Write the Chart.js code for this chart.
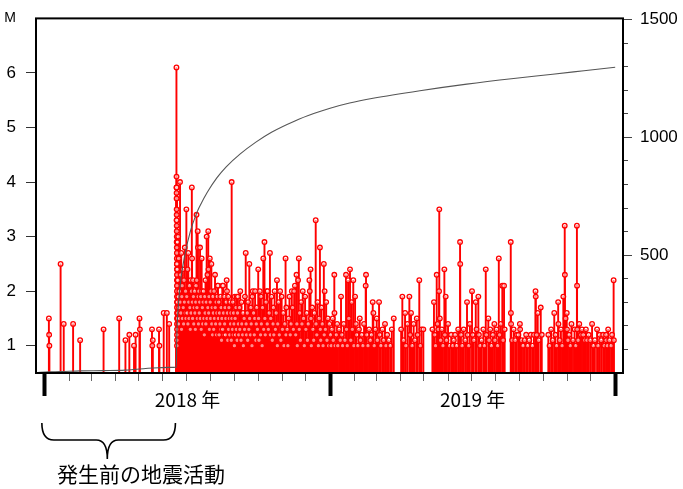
<!DOCTYPE html>
<html>
<head>
<meta charset="utf-8">
<script src="https://cdn.jsdelivr.net/npm/chart.js@4.4.0/dist/chart.umd.min.js"></script>
<style>
  html, body { margin: 0; padding: 0; background: #fff; }
</style>
</head>
<body>
<canvas id="mtChart" width="683" height="489"></canvas>
<script>
// Eje X: días contados desde el 1 de enero de 2018
const xMin = -11.5, xMax = 740;
const monthStartDays = [0, 31, 59, 90, 120, 151, 181, 212, 243, 273, 304, 334, 365, 396, 424, 455, 485, 516, 546, 577, 608, 638, 669, 699, 730];
const yearStartDays = [0, 365, 730];
const yearLabelDays = [182.5, 547.5];
const yearLabels = ['2018 年', '2019 年'];

// Eje izquierdo (magnitud) y derecho (número acumulado)
const magMin = 0.5, magMax = 7;
const magTicks = [1, 2, 3, 4, 5, 6, 7];
const countMax = 1505;
const countTicks = [100, 200, 300, 400, 500, 600, 700, 800, 900, 1000, 1100, 1200, 1300, 1400, 1500];
const countLabels = [500, 1000, 1500];

// Nota bajo el eje
const noteText = '発生前の地震活動';
const noteFromDay = -4, noteToDay = 167;

// Sismos: [día, M]
const preEvents = [[5,1.5],[5.3,1.2],[5.6,1.0],[20,2.5],[24,1.4],[36,1.4],[45,1.1],[75,1.3],[95,1.5],[103,1.1],[108,1.2],[114,1.0],[116,1.2],[121,1.5],[121.5,1.3],[137,1.3],[137.4,1.0],[138,1.1],[146,1.3],[146.5,1.0],[152,1.6],[156,1.6],[159,1.4]];

const mainshockDay = [[168.3,6.1],[168.4,4.1],[168.45,3.9],[168.5,3.9],[168.5,3.8],[168.5,3.7],[168.55,3.5],[168.6,3.4],[168.6,3.3],[168.6,3.3],[168.65,3.2],[168.7,3.1],[168.7,3.0],[168.7,2.9],[168.75,2.9],[168.75,2.8],[168.8,2.7],[168.8,2.6],[168.8,2.5],[168.85,2.5],[168.85,2.4],[168.9,2.3],[168.9,2.2],[168.9,2.1],[168.95,2.0],[168.95,1.9],[169,1.8],[169,1.7],[169,1.6],[169,1.5],[169,1.4],[169,1.3],[169,1.2],[169,1.1],[169,1.0]];

const aftershocks2018 = [[169.2,2.4],[169.4,1.8],[169.6,2.9],[169.8,1.5],[170,2.2],[170.2,1.6],[170.5,3.0],[170.7,1.9],[171,1.4],[171.3,2.6],[171.6,1.7],[172,2.0],[172.3,1.5],[172.9,4.0],[173.2,1.8],[173.6,2.3],[174,1.6],[174.4,2.7],[174.8,1.3],[175.2,1.9],[175.6,2.1],[176,1.5],[176.5,2.4],[177,1.7],[177.5,1.4],[178,2.2],[178.5,1.8],[179,2.8],[179.5,1.6],[180,2.0],[180.5,1.5],[181,3.5],[181.5,1.9],[182,1.6],[182.5,2.4],[183,1.4],[183.5,2.7],[184,1.8],[184.5,1.5],[185,2.1],[185.5,1.7],[186,1.3],[186.5,2.2],[187,1.6],[187.5,2.0],[188,3.9],[188.3,2.6],[188.6,1.8],[189,1.5],[189.5,2.2],[190,1.9],[190.5,1.4],[191,1.7],[191.5,2.0],[192,1.6],[192.5,1.3],[193,1.8],[193.5,2.1],[194,3.4],[194.3,2.2],[194.6,1.7],[195,1.5],[195.5,3.1],[195.8,2.8],[196,1.9],[196.5,1.4],[197,2.0],[197.5,1.6],[198,1.8],[198.5,2.8],[199,1.5],[199.5,1.9],[200,1.3],[200.6,2.6],[201,2.0],[201.5,1.7],[202,1.4],[202.5,1.8],[203,2.0],[203.5,1.5],[204,1.2],[204.5,1.9],[205,1.6],[205.5,2.2],[206,1.4],[206.5,1.8],[207,3.0],[207.5,1.5],[208,2.3],[208.5,1.7],[209,3.1],[209.3,2.4],[209.6,1.6],[210,1.9],[210.5,1.3],[211,2.6],[211.5,1.8],[212,1.5],[212.5,2.0],[213,2.5],[213.5,1.4],[214,1.7],[214.5,1.2],[215,1.9],[215.5,1.6],[216,1.3],[216.5,2.0],[217,1.5],[217.7,2.3],[218,1.7],[218.5,1.4],[219,1.8],[219.5,1.2],[220,1.6],[220.5,1.9],[221,2.1],[221.5,2.1],[222,1.5],[222.5,1.8],[223,1.2],[223.5,1.6],[224,1.4],[224.5,1.9],[225,1.3],[225.5,1.7],[226,1.1],[226.5,1.5],[227,2.1],[227.5,1.3],[228,2.1],[228.5,1.6],[229,1.2],[229.5,1.9],[230,1.4],[230.5,1.7],[231,1.2],[231.5,1.5],[232,1.8],[232.6,2.2],[233,2.0],[233.5,1.6],[234,1.1],[234.5,1.9],[235,1.3],[235.5,1.7],[236,1.5],[236.5,1.2],[237,1.8],[237.5,1.4],[238,1.6],[238.5,1.1],[239,4.0],[239.5,1.5],[240,1.3],[240.5,1.8],[241,1.2],[241.5,1.6],[242,1.4],[242.5,1.0],[243,1.9],[243.5,1.5],[244,1.2],[244.5,1.7],[245,1.3],[245.5,1.9],[246,1.1],[246.5,1.6],[247,1.9],[247.5,1.4],[248,1.2],[249,1.7],[249.5,1.3],[250,2.0],[251,1.1],[251.5,1.8],[252,1.4],[253,1.2],[253.5,1.6],[254,1.0],[255,1.5],[255.5,1.3],[256,1.9],[257,2.7],[257.5,1.4],[258,1.2],[259,1.6],[259.5,1.1],[260,1.8],[261,1.3],[261.6,2.5],[262,1.5],[263,1.2],[263.5,1.7],[264,1.4],[265,1.0],[265.5,1.9],[266,2.0],[267,1.6],[268,1.2],[268.5,1.5],[269,2.0],[270,1.1],[270.5,1.4],[271,1.7],[272,1.3],[273,2.4],[273.5,1.5],[274,1.1],[275,2.0],[276,1.2],[276.5,1.9],[277,1.4],[278,1.0],[278.5,1.7],[279.5,2.6],[280,1.3],[281,2.9],[281.5,1.5],[282,1.2],[283,1.8],[284,2.0],[284.5,1.4],[285,2.0],[286,1.3],[287,1.6],[288,2.7],[288.5,1.2],[289,1.5],[290,1.9],[291,1.1],[292,1.4],[292.5,1.7],[293,1.2],[294,2.0],[295,1.3],[296,1.6],[297,2.2],[297.5,1.0],[298,1.4],[299,1.8],[300,1.2],[301,2.0],[302,1.1],[303,1.9],[304,1.3],[305,1.6],[306,1.0],[307,1.4],[308,2.6],[308.5,1.2],[309,1.7],[310,1.3],[311,1.0],[312,1.5],[313,1.9],[314,1.2],[315,1.4],[316,2.0],[317,1.7],[318,1.3],[319,2.0],[320,2.1],[321,1.2],[322,2.3],[322.5,1.4],[323,1.0],[324,2.2],[325,2.6],[325.5,1.3],[326,1.6],[327,1.1],[328,1.8],[329,1.4],[330,2.0],[331,1.5],[332,1.0],[333,1.9],[334,1.3],[335,1.6],[336,1.1],[337,1.4],[338.5,2.2],[339,2.0],[340,2.4],[340.5,1.5],[341,1.0],[342,1.7],[343,1.3],[344,1.1],[345,1.6],[346.6,3.3],[347,1.4],[348,1.2],[349,1.8],[350,1.0],[351,1.5],[352,2.8],[352.5,1.3],[353,1.1],[354,1.7],[355,1.4],[356,1.0],[357,2.5],[357.5,1.2],[358,2.0],[359,1.3],[360,1.8],[361,1.1],[362,1.5],[363,1.0],[364,1.4]];

const events2019 = [[365.5,1.2],[366.5,1.0],[367.5,1.3],[368.4,1.5],[369,1.1],[370.4,2.3],[370.6,1.6],[371.5,1.0],[373,1.2],[374,1.4],[375,1.0],[376.5,1.3],[378,1.1],[379,1.9],[380,1.2],[381,1.0],[382.5,1.4],[384,1.1],[385.4,2.3],[386,1.3],[387,1.0],[388,2.2],[389,1.5],[390.5,2.4],[391.5,1.1],[392.7,1.8],[393.5,1.3],[394.7,2.2],[395.5,1.0],[397,1.9],[398,1.4],[399,1.2],[400.5,1.0],[402,1.3],[403,1.5],[404,1.1],[405.5,1.2],[407,1.0],[408.5,1.4],[410.6,2.1],[411,2.3],[412,1.2],[413.5,1.0],[415,1.3],[416.5,1.1],[418,1.2],[419.6,1.8],[420.4,1.6],[421.5,1.0],[423,1.3],[424.7,1.5],[425.5,1.1],[427.7,1.8],[428.5,1.2],[430,1.0],[432,1.3],[433.5,1.1],[435.3,1.4],[436.5,1.0],[438,1.2],[440,1.1],[442,1.0],[444,1.3],[446.5,1.5],[456,1.3],[457.5,1.9],[459,1.1],[461,1.6],[462,1.0],[464,1.4],[466.5,1.9],[467.5,1.2],[468.6,1.6],[470,1.0],[472,1.4],[473.5,1.1],[476,1.5],[477,1.2],[479.2,2.2],[480.5,1.0],[482,1.3],[484.4,1.3],[496,1.3],[498,1.8],[499,1.2],[500,1.0],[501.5,2.3],[502.5,1.4],[503.5,1.3],[504.5,2.0],[504.8,3.5],[505.5,1.5],[506.5,1.1],[508,1.3],[509.5,1.0],[511.3,2.4],[512,1.2],[513,1.9],[514,1.1],[516,1.4],[518,1.0],[520,1.2],[522,1.0],[523.5,1.1],[525,1.2],[527,1.0],[529,1.3],[531.4,2.9],[531.6,2.5],[532.5,1.2],[534,1.0],[536,1.3],[538,1.1],[540.3,1.8],[541,1.2],[542.5,1.0],[544,1.4],[546.7,2.0],[547.5,1.2],[549,1.1],[551.5,1.8],[552.5,1.3],[554.8,1.9],[555.5,1.2],[557,1.0],[559,1.1],[561.2,1.3],[562.5,1.0],[564.3,2.4],[565,1.2],[567.6,1.5],[568.5,1.1],[570,1.3],[571.5,1.0],[573.5,1.2],[575.3,1.4],[576,1.1],[578,1.3],[579.5,1.0],[581,2.6],[582,1.2],[583.5,1.4],[585.5,2.1],[586.5,1.1],[587.7,2.1],[588.5,1.3],[596.3,2.9],[596.5,1.6],[596.7,1.4],[598,1.1],[600,1.3],[602,1.1],[604,1.2],[606,1.2],[608,1.4],[608.3,1.3],[610,1.1],[612,1.0],[614,1.1],[616,1.2],[618,1.0],[620,1.1],[622,1.2],[624,1.0],[626,1.2],[628,2.0],[628.3,1.9],[629.5,1.2],[630.8,1.6],[632,1.1],[634.7,1.7],[636,1.2],[644.4,1.2],[646,1.0],[648,1.3],[650,1.1],[652,1.6],[653.5,1.2],[655,1.0],[657,1.8],[657.3,1.4],[659,1.1],[660.5,1.3],[662,1.0],[663.6,1.9],[665.4,3.2],[665.6,2.3],[666.5,1.5],[668,1.6],[668.3,1.3],[669.5,1.1],[671,1.2],[672.5,1.0],[674,1.4],[676,1.1],[678,1.3],[679.5,1.0],[681,3.2],[681.2,2.1],[681.4,1.3],[682.5,1.1],[684,1.4],[686,1.2],[687.5,1.3],[689,1.2],[691,1.1],[692.5,1.3],[694,1.1],[696,1.2],[698,1.1],[700.4,1.4],[702,1.0],[704,1.1],[706.8,1.3],[708,1.0],[710,1.2],[712,1.1],[714.5,1.2],[716,1.0],[718.3,1.2],[718.6,1.1],[720,1.0],[721,1.3],[722.5,1.1],[724.7,1.0],[726,1.2],[728,2.2],[728.3,1.1]];

// Número acumulado de sismos (curva gris, eje derecho)
const cumDays = [-11.5, 5, 20, 45, 75, 103, 121, 146, 159, 168.2, 168.6, 169.5, 171, 174, 179, 186, 195, 198.5, 208, 220, 232, 250, 270, 290, 320, 345, 365, 390, 420, 480, 540, 600, 650, 690, 730];
const cumCounts = [2, 5, 6, 9, 10, 12, 17, 22, 24, 25, 130, 220, 300, 400, 500, 600, 685, 710, 768, 828, 875, 930, 980, 1022, 1070, 1102, 1124, 1146, 1166, 1198, 1226, 1250, 1268, 1283, 1298];

const allEvents = [].concat(preEvents, mainshockDay, aftershocks2018, events2019);

const numFont = { family: '"Liberation Sans", Arial, sans-serif', size: 17 };
const jpFont = '"Noto Sans CJK JP", sans-serif';

// Marco del gráfico y la llave con la nota
const frameAndNote = {
    id: 'frameAndNote',
    afterDatasetsDraw(chart) {
        const { ctx, chartArea: a } = chart;
        ctx.save();
        ctx.strokeStyle = '#000';
        ctx.lineWidth = 2;
        ctx.strokeRect(a.left, a.top, a.right - a.left, a.bottom - a.top);
        ctx.restore();
    },
    afterDraw(chart) {
        const { ctx } = chart;
        const xs = chart.scales.x;
        const x0 = xs.getPixelForValue(noteFromDay);
        const x1 = xs.getPixelForValue(noteToDay);
        const tip = x0 + (x1 - x0) * 0.49;
        const top = 423, mid = 440, bot = 459;
        ctx.save();
        ctx.strokeStyle = '#000';
        ctx.lineWidth = 1.6;
        ctx.beginPath();
        ctx.moveTo(x0, top);
        ctx.quadraticCurveTo(x0, mid, x0 + 12, mid);
        ctx.lineTo(tip - 11, mid);
        ctx.quadraticCurveTo(tip, mid, tip, bot);
        ctx.quadraticCurveTo(tip, mid, tip + 11, mid);
        ctx.lineTo(x1 - 12, mid);
        ctx.quadraticCurveTo(x1, mid, x1, top);
        ctx.stroke();
        ctx.fillStyle = '#000';
        ctx.font = '21px ' + jpFont;
        ctx.textAlign = 'left';
        ctx.textBaseline = 'middle';
        ctx.fillText(noteText, 57, 474);
        ctx.restore();
    }
};

new Chart(document.getElementById('mtChart'), {
    type: 'scatter',
    data: {
        datasets: [
            {
                // Curva acumulada
                type: 'line',
                data: cumDays.map((d, i) => ({ x: d, y: cumCounts[i] })),
                yAxisID: 'y2',
                borderColor: '#555555',
                borderWidth: 1.1,
                pointRadius: 0,
                cubicInterpolationMode: 'monotone',
                order: 1
            },
            {
                // Círculos de cada sismo
                type: 'scatter',
                data: allEvents.map(e => ({ x: e[0], y: e[1] })),
                yAxisID: 'y',
                pointRadius: 2.3,
                borderWidth: 1.3,
                borderColor: '#ff0000',
                backgroundColor: 'rgba(255,255,255,0.55)',
                order: 2
            },
            {
                // Barras verticales (tallos) hasta la M de cada sismo
                type: 'bar',
                data: allEvents.map(e => ({ x: e[0], y: [magMin, e[1]] })),
                yAxisID: 'y',
                backgroundColor: '#ff0000',
                borderWidth: 0,
                barThickness: 1.25,
                grouped: false,
                order: 3
            }
        ]
    },
    options: {
        responsive: false,
        animation: false,
        layout: { padding: { top: 13, bottom: 68, left: 0, right: 0 } },
        plugins: { legend: { display: false }, tooltip: { enabled: false } },
        scales: {
            x: {
                type: 'linear',
                position: 'bottom',
                min: xMin,
                max: xMax,
                offset: false,
                border: { display: false },
                afterBuildTicks: axis => {
                    axis.ticks = monthStartDays.concat(yearLabelDays).map(v => ({ value: v }));
                },
                afterFit: axis => { axis.height = 48; },
                grid: {
                    offset: false,
                    drawOnChartArea: false,
                    drawTicks: true,
                    tickLength: 23,
                    tickColor: ctx => {
                        const v = ctx.tick && ctx.tick.value;
                        if (yearLabelDays.includes(v)) return 'rgba(0,0,0,0)';
                        return yearStartDays.includes(v) ? '#000' : '#666';
                    },
                    tickWidth: ctx => {
                        const v = ctx.tick && ctx.tick.value;
                        if (yearLabelDays.includes(v)) return 0;
                        return yearStartDays.includes(v) ? 4 : 1;
                    },
                    tickBorderDash: ctx => {
                        const v = ctx.tick && ctx.tick.value;
                        return yearStartDays.includes(v) ? [] : [8, 60];
                    }
                },
                ticks: {
                    autoSkip: false,
                    maxRotation: 0,
                    padding: -8,
                    color: '#000',
                    font: { family: jpFont, size: 19 },
                    callback: value => {
                        const i = yearLabelDays.indexOf(value);
                        return i >= 0 ? yearLabels[i] : '';
                    }
                }
            },
            y: {
                type: 'linear',
                position: 'left',
                min: magMin,
                max: magMax,
                border: { display: false },
                afterBuildTicks: axis => { axis.ticks = magTicks.map(v => ({ value: v })); },
                afterFit: axis => { axis.width = 36; },
                grid: {
                    drawOnChartArea: false,
                    tickLength: 10,
                    tickColor: ctx => (ctx.tick && ctx.tick.value === magMax ? 'rgba(0,0,0,0)' : '#333')
                },
                ticks: {
                    padding: 10,
                    color: '#000',
                    font: ctx => (ctx.tick && ctx.tick.value === magMax
                        ? { family: numFont.family, size: 14 }
                        : numFont),
                    callback: value => (value === magMax ? 'M' : value)
                }
            },
            y2: {
                type: 'linear',
                position: 'right',
                min: 0,
                max: countMax,
                border: { display: false },
                afterBuildTicks: axis => { axis.ticks = countTicks.map(v => ({ value: v })); },
                afterFit: axis => { axis.width = 60; },
                grid: {
                    drawOnChartArea: false,
                    tickLength: 9,
                    tickColor: '#444',
                    tickBorderDash: ctx => (ctx.tick && countLabels.includes(ctx.tick.value) ? [] : [5, 40])
                },
                ticks: {
                    padding: 8,
                    color: '#000',
                    font: numFont,
                    callback: value => (countLabels.includes(value) ? value : '')
                }
            }
        }
    },
    plugins: [frameAndNote]
});
</script>
</body>
</html>
